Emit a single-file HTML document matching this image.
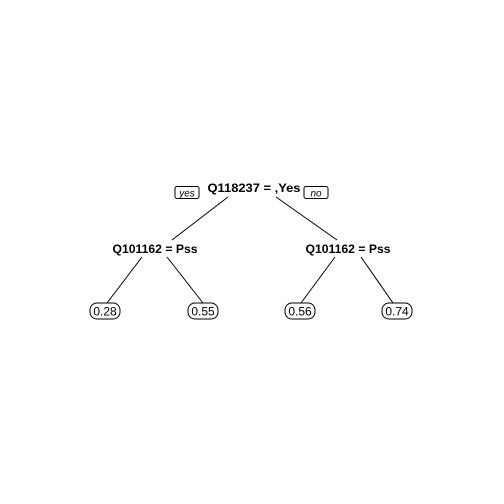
<!DOCTYPE html>
<html><head><meta charset="utf-8"><style>
html,body{margin:0;padding:0;background:#fff;}
svg{display:block;font-family:"Liberation Sans",Arial,sans-serif;}
</style></head><body>
<svg id="tree" width="504" height="504">
<rect width="504" height="504" fill="#fff"/>
</svg>
<script>
const leafValues=["0.28","0.55","0.56","0.74"];
const splitLabels=["Q118237 = ,Yes","Q101162 = Pss","Q101162 = Pss"];
const branchLabels=["yes","no"];
const NS="http://www.w3.org/2000/svg";
const svg=document.getElementById('tree');
function mk(t,a){const e=document.createElementNS(NS,t);for(const k in a)e.setAttribute(k,a[k]);svg.appendChild(e);return e;}
const edges=[[228,197,172,240],[276,197,337,240],[142,257,107,303],[167,257,203,303],[335,257,301,303],[361,257,393,303]];
edges.forEach(function(c,i){const l=mk('line',{x1:c[0],y1:c[1],x2:c[2],y2:c[3],stroke:'#000','stroke-width':1});

});
const sp=[[254,192,93],[155,253,85],[348,253,85]];
splitLabels.forEach(function(s,i){const t=mk('text',{x:sp[i][0],y:sp[i][1],'text-anchor':'middle','font-size':12,'font-weight':'bold',textLength:sp[i][2],lengthAdjust:'spacingAndGlyphs'});t.textContent=s;

});
const bp=[[187,193],[316,193]];
branchLabels.forEach(function(s,i){const r=mk('rect',{x:bp[i][0]-12,y:bp[i][1]-6.5,width:24,height:12,rx:2,fill:'#fff',stroke:'#000','stroke-width':1});


const t=mk('text',{x:bp[i][0],y:bp[i][1]+3.5,'text-anchor':'middle','font-size':10,'font-style':'italic'});t.textContent=s;

});
const lx=[105,203,300,397];
leafValues.forEach(function(v,i){const r=mk('rect',{x:lx[i]-15,y:303,width:30,height:16,rx:7,fill:'#fff',stroke:'#000','stroke-width':1});


const t=mk('text',{x:lx[i],y:315.5,'text-anchor':'middle','font-size':12});t.textContent=v;

});
</script>
</body></html>
